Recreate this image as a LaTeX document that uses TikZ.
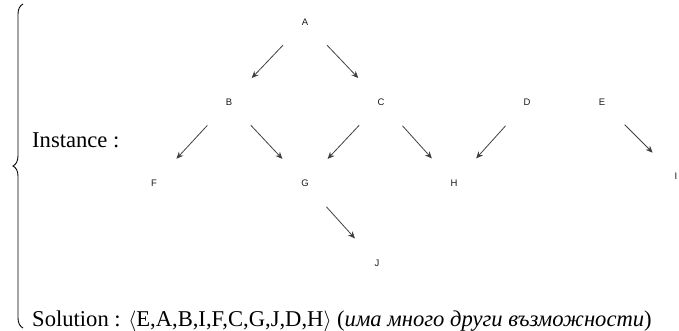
\documentclass[tikz,border=0pt]{standalone}
\usepackage{fontspec}
\setmainfont{Liberation Serif}
\newfontfamily\lettersf{Liberation Sans}
\usetikzlibrary{arrows.meta,decorations.pathreplacing}
\begin{document}
\begin{tikzpicture}[x=1pt,y=-1pt,
  vtx/.style={font=\lettersf\fontsize{9.5}{10}\selectfont, text=black!90, inner sep=0pt},
  edge/.style={draw=black!75, line width=0.8pt, -{Stealth[length=7pt,width=6pt]}, shorten <=32pt, shorten >=33pt},
  bigtext/.style={font=\fontsize{22.6}{25}\selectfont, inner sep=0pt, anchor=base west}]
\useasboundingbox (0,0) rectangle (679,331);
\node[vtx] (A) at (305,22) {A};
\node[vtx] (B) at (229,102) {B};
\node[vtx] (C) at (381,102) {C};
\node[vtx] (D) at (527,102) {D};
\node[vtx] (E) at (602,102) {E};
\node[vtx] (F) at (154,183) {F};
\node[vtx] (G) at (305,183) {G};
\node[vtx] (H) at (454,183) {H};
\node[vtx] (I) at (676,176) {I};
\node[vtx] (J) at (377,263) {J};
\foreach \s/\t in {A/B,A/C,B/F,B/G,C/G,C/H,D/H,E/I,G/J}
  \draw[edge] (\s.center) -- (\t.center);
\node[bigtext] (inst) at (32,148) {Instance :};
\node[bigtext] (sol) at (32,326) {Solution : $\langle$E,A,B,I,F,C,G,J,D,H$\rangle$ (\textit{има много други възможности})};
\coordinate (brb) at (23,328);
\coordinate (brt) at (23,4);
\draw[line width=0.9pt, decorate, decoration={brace, amplitude=10pt}] (brb) -- (brt);
\end{tikzpicture}
\end{document}
